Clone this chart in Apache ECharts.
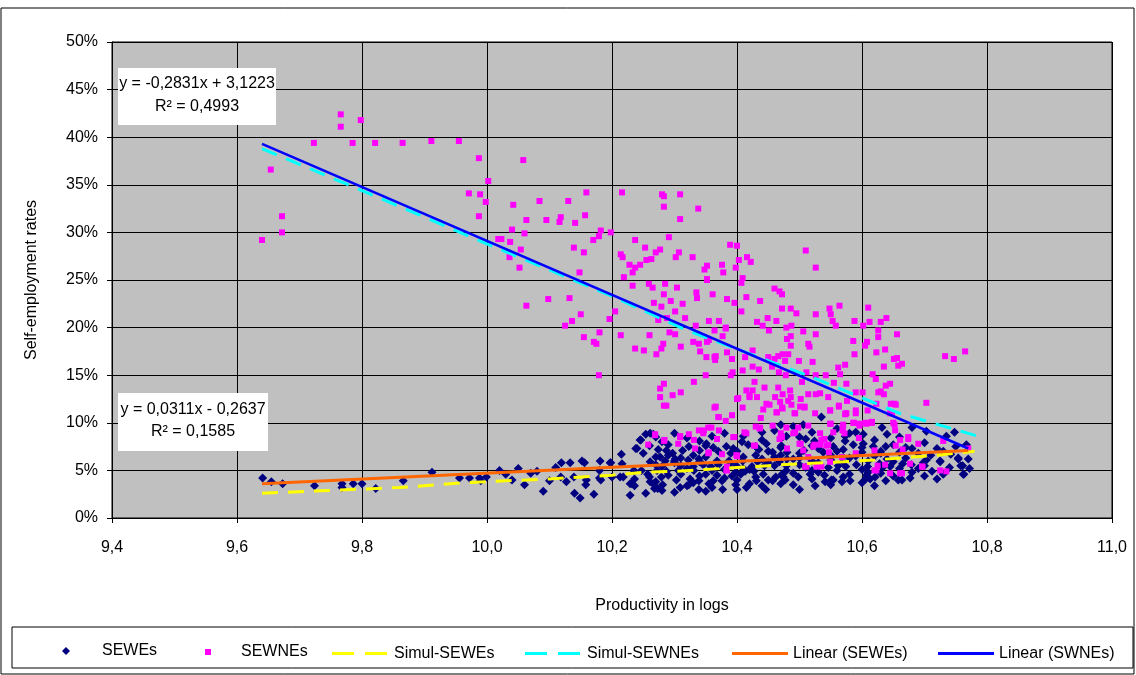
<!DOCTYPE html>
<html>
<head>
<meta charset="utf-8">
<title>Self-employment rates</title>
<script src="https://cdn.jsdelivr.net/npm/echarts@6/dist/echarts.min.js"></script>
<style>
  html, body { margin: 0; padding: 0; background: #fff; }
  .echarts_1 { width: 1136px; height: 675px; }
</style>
</head>
<body>
<div class="echarts_1"></div>
<script>
// data: x = productivity in logs, y = rate in %
var xTicks = [9.4, 9.6, 9.8, 10.0, 10.2, 10.4, 10.6, 10.8, 11.0];
var yTicks = [0, 5, 10, 15, 20, 25, 30, 35, 40, 45, 50];

var sewes = [
  [9.641,4.2],[9.655,3.8],[9.673,3.6],[9.724,3.4],[9.768,3.6],[9.768,3.2],[9.786,3.6],[9.8,3.6],[9.822,3.1],[9.866,3.9],
  [9.912,4.8],[9.956,4.2],[9.972,4.2],[9.988,4.2],[9.99,3.9],[9.999,4.3],
  [10.02,5.0],[10.03,4.6],[10.05,5.2],[10.06,3.5],[10.07,4.7],[10.04,4.0],[10.08,4.9],[10.09,2.8],[10.1,3.9],[10.11,5.3],
  [10.119,5.8],[10.133,5.8],[10.152,6.0],[10.156,5.8],[10.181,6.0],[10.18,5.0],[10.198,5.8],[10.215,6.7],[10.24,7.3],[10.245,8.2],
  [10.254,8.8],[10.261,8.9],[10.14,2.6],[10.149,2.1],[10.171,2.5],[10.139,4.3],[10.127,3.8],[10.118,4.3],[10.159,4.0],[10.158,3.5],
  [10.182,4.0],[10.2,4.3],[10.213,4.3],[10.229,2.4],[10.232,3.6],[10.236,4.1],[10.254,2.6],[10.273,3.1],[10.266,3.6],[10.235,5.0],
  [10.266,8.8],[10.246,8.2],[10.238,7.3],[10.216,5.7],[10.197,5.8],[10.18,4.2],[10.218,4.3],[10.236,3.4],[10.261,3.8],[10.268,3.1],
  [10.279,4.3],[10.287,4.9],[10.303,4.0],[10.31,4.6],[10.325,4.1],[10.339,3.9],[10.355,3.6],[10.362,3.9],[10.376,3.9],[10.392,4.4],
  [10.406,4.6],[10.415,3.2],[10.446,3.0],[10.457,3.9],[10.472,4.6],[10.477,4.0],
  [10.274,7.2],[10.287,7.1],[10.297,6.8],[10.313,7.1],[10.323,7.5],[10.34,7.1],[10.351,7.8],[10.362,7.4],[10.383,7.5],[10.394,7.3],
  [10.408,8.0],[10.418,7.7],[10.435,7.2],[10.447,7.8],[10.457,6.9],[10.47,7.4],[10.479,8.6],
  [10.261,5.9],[10.277,6.4],[10.285,6.0],[10.301,6.2],[10.322,6.1],[10.339,6.2],[10.346,5.6],[10.358,5.4],[10.368,6.0],[10.387,6.0],
  [10.399,5.5],[10.409,6.0],[10.424,5.4],[10.433,5.9],[10.444,5.5],[10.46,5.5],[10.468,5.9],[10.479,5.5],[10.247,5.0],[10.257,4.6],
  [10.272,5.0],[10.306,5.0],[10.331,5.0],[10.35,4.6],[10.368,4.5],[10.398,4.8],[10.413,4.9],[10.427,4.9],[10.442,4.6],[10.462,4.3],
  [10.229,3.6],[10.281,3.5],[10.309,3.2],[10.323,3.5],[10.339,3.0],[10.377,3.0],[10.398,3.5],[10.431,3.9],
  [10.535,10.6],[10.59,9.0],[10.632,9.5],[10.64,8.8],[10.703,9.1],[10.748,9.0],[10.506,9.8],[10.473,8.5],[10.5,8.5],[10.524,8.1],
  [10.573,8.1],[10.586,7.7],[10.602,7.8],[10.618,7.5],[10.638,7.5],[10.554,7.5],[10.538,6.9],[10.507,7.1],[10.471,7.6],[10.725,6.0],
  [10.742,6.7],[10.754,6.2],[10.761,5.5],[10.763,4.6],[10.712,4.9],[10.703,6.1],[10.679,5.6],[10.665,5.7],[10.645,5.4],[10.628,5.7],
  [10.609,5.4],[10.591,5.6],[10.574,5.4],[10.562,5.5],[10.546,5.3],[10.49,4.7],[10.479,5.0],[10.474,4.3],[10.498,4.3],[10.517,4.6],
  [10.541,3.8],[10.554,4.0],[10.568,3.8],[10.581,3.9],[10.606,4.1],[10.621,4.3],[10.638,3.9],[10.658,4.0],[10.677,4.2],[10.525,3.4],
  [10.49,3.5],[10.607,4.5],[10.573,8.6],[10.602,8.8],
  [10.735,8.6],[10.767,7.7],[10.754,6.3],[10.77,6.2],[10.758,5.5],[10.772,5.2],[10.762,4.6],[10.725,5.9],[10.698,5.8],[10.664,4.0],
  [10.613,4.1],[10.551,4.0],[10.633,5.3],
  [10.49,6.2],[10.5,6.8],[10.52,6.0],[10.53,7.3],[10.55,6.6],[10.56,7.0],[10.58,6.3],[10.6,6.9],[10.62,6.5],[10.64,6.2],
  [10.66,6.9],[10.67,7.4],[10.69,6.8],[10.7,7.9],[10.72,7.3],[10.47,6.6],[10.45,7.0],[10.43,6.6],[10.41,6.4],[10.39,6.8],
  [10.37,7.0],[10.35,6.4],[10.33,6.6],[10.31,6.3],[10.29,6.6],[10.27,6.4],[10.25,6.8],[10.3,2.7],[10.5,3.0],[10.44,8.2],
  [10.52,9.0],[10.56,9.4],[10.49,9.6],[10.46,9.2],[10.36,8.6],[10.32,8.4],[10.3,8.9],[10.28,8.0],[10.66,8.5],[10.68,9.5],
  [10.54,4.5],[10.56,5.0],[10.58,4.6],[10.6,5.1],[10.63,4.7],[10.65,4.4],[10.68,4.8],[10.7,4.4],[10.72,4.1],[10.74,5.3],
  [10.52,5.0],[10.5,5.6],[10.45,4.0],[10.42,3.6],[10.36,3.2],[10.33,3.7],[10.27,3.8],[10.26,4.3],[10.29,4.5],[10.31,5.5],
  [10.34,4.4],[10.38,5.1],[10.43,4.3],
  [10.26,7.6],[10.28,5.4],[10.3,5.8],[10.32,5.2],[10.34,5.9],[10.36,5.0],[10.38,4.2],[10.4,4.0],[10.42,5.1],[10.44,6.2],
  [10.46,6.4],[10.48,6.9],[10.5,6.3],[10.51,5.3],[10.53,5.8],[10.55,6.1],[10.57,5.9],[10.59,6.5],[10.61,6.0],[10.63,6.8],
  [10.65,5.9],[10.67,6.3],[10.69,5.2],[10.71,6.6],[10.73,7.0],[10.75,7.5],[10.44,9.0],[10.47,9.8],[10.51,8.3],[10.55,8.4],
  [10.58,8.9],[10.62,8.2],[10.65,7.7],[10.68,7.3],[10.41,8.6],[10.38,8.9],[10.34,8.1],[10.29,7.7],[10.27,8.5],[10.35,7.6],
  [10.4,7.0],[10.43,7.5],[10.52,7.6],[10.57,7.2],[10.6,7.4],[10.63,7.0],[10.39,5.8],[10.41,5.2],[10.37,5.6],[10.33,5.4],
  [10.3,6.0],[10.27,5.6],[10.45,5.8],[10.48,6.2],[10.53,4.8],[10.57,4.3],[10.61,4.8],[10.66,5.2],[10.7,5.5],[10.73,4.6],
  [10.47,3.6],[10.52,4.1],[10.55,3.5],[10.6,3.7],[10.4,3.0],[10.35,2.8],[10.32,3.4],[10.28,2.9],[10.44,3.4],[10.62,3.4]
];

var sewnes = [
  [9.64,29.2],[9.654,36.6],[9.672,31.7],[9.672,30.0],[9.723,39.4],[9.766,42.4],[9.766,41.1],[9.785,39.4],[9.798,41.8],[9.821,39.4],
  [9.865,39.4],[9.911,39.6],[9.955,39.6],[9.971,34.1],[9.987,37.8],[9.989,34.0],[9.998,33.2],[9.987,31.7],[10.002,35.4],
  [10.058,37.6],[10.159,34.2],[10.216,34.2],[10.28,34.0],[10.283,33.8],[10.309,34.0],[10.283,32.7],[10.338,32.5],[10.309,31.4],[10.042,32.9],
  [10.084,33.3],[10.13,33.3],[10.063,31.3],[10.095,31.3],[10.116,31.1],[10.118,31.6],[10.141,31.0],[10.157,31.8],[10.04,30.3],[10.06,29.9],
  [10.018,29.3],[10.023,29.3],[10.037,29.0],[10.054,28.2],[10.036,27.4],[10.052,26.3],[10.139,28.4],[10.155,27.9],[10.17,29.2],[10.179,29.6],
  [10.182,30.2],[10.198,30.0],[10.237,29.2],[10.291,29.5],[10.389,28.7],[10.4,28.6],[10.253,28.4],[10.27,27.9],[10.277,28.2],[10.214,27.7],
  [10.217,27.4],[10.255,27.1],[10.263,27.2],[10.302,27.4],[10.307,27.9],[10.329,27.4],[10.228,26.6],[10.237,26.3],[10.245,26.6],[10.233,25.8],
  [10.219,25.3],[10.148,25.8],[10.352,26.5],[10.348,26.1],[10.376,26.6],[10.378,25.8],[10.398,26.3],[10.352,25.1],[10.233,24.4],[10.259,24.6],
  [10.265,24.2],[10.285,24.6],[10.304,24.2],[10.283,23.5],[10.294,22.8],[10.313,22.5],[10.267,22.6],[10.279,22.2],[10.335,23.7],[10.336,23.1],
  [10.361,23.5],[10.384,23.0],[10.396,22.6],[10.098,23.0],[10.132,23.1],[10.063,22.3],[10.15,21.4],[10.136,20.7],[10.125,20.2],[10.205,21.7],
  [10.196,20.9],[10.301,21.7],[10.317,21.0],[10.274,20.8],[10.288,21.0],[10.355,20.7],[10.371,20.7],[10.334,20.2],[10.382,20.0],[10.155,19.0],
  [10.18,19.5],[10.171,18.5],[10.175,18.3],[10.214,19.2],[10.26,19.2],[10.292,19.5],[10.301,19.3],[10.33,18.5],[10.339,18.3],[10.282,18.3],
  [10.31,18.0],[10.237,17.8],[10.251,17.6],[10.279,17.8],[10.271,17.2],[10.341,17.5],[10.352,18.5],[10.364,16.9],[10.377,19.1],[10.384,17.4],
  [10.179,15.0],
  [10.51,28.1],[10.416,27.4],[10.422,26.9],[10.403,27.1],[10.526,26.3],[10.352,25.0],[10.409,25.2],[10.407,24.7],[10.415,23.2],[10.437,22.8],
  [10.46,24.1],[10.468,23.8],[10.472,23.5],[10.407,21.7],[10.472,22.0],[10.486,22.0],[10.495,21.5],[10.548,22.0],[10.564,22.3],[10.61,22.1],
  [10.526,21.4],[10.55,21.4],[10.639,21.0],[10.553,20.7],[10.558,20.2],[10.588,20.7],[10.602,20.2],[10.612,20.6],[10.63,20.6],[10.432,20.6],
  [10.441,20.2],[10.449,21.0],[10.463,20.7],[10.451,19.7],[10.479,20.0],[10.487,20.2],[10.506,19.6],[10.526,19.3],[10.48,18.8],[10.486,19.1],
  [10.626,19.7],[10.656,19.3],[10.626,19.0],[10.586,18.6],[10.608,18.5],[10.605,18.1],[10.514,18.3],[10.516,18.0],[10.486,18.1],[10.364,19.7],
  [10.382,19.9],[10.355,18.7],[10.425,17.6],[10.366,17.0],[10.365,16.6],[10.351,16.9],[10.392,16.7],[10.413,16.9],[10.45,16.9],[10.466,17.0],
  [10.473,17.2],[10.482,17.2],[10.46,16.7],[10.477,16.5],[10.499,16.5],[10.521,16.4],[10.651,16.7],[10.656,16.8],[10.664,16.2],[10.635,15.9],
  [10.658,16.0],[10.588,17.2],[10.623,17.4],[10.637,17.7],[10.733,17.0],[10.747,16.7],[10.765,17.5],[10.573,16.1],[10.562,15.8],[10.409,15.5],
  [10.425,15.9],[10.435,15.6],[10.456,15.9],[10.467,15.3],[10.478,15.0],[10.393,15.3],[10.39,15.0],[10.35,15.0],[10.511,15.3],[10.526,15.0],
  [10.542,15.0],[10.565,15.1],[10.555,14.2],[10.575,14.1],[10.617,15.1],[10.622,14.6],[10.638,13.9],[10.645,14.1],[10.428,14.3],[10.444,13.7],
  [10.466,13.7],[10.485,13.4],[10.504,14.3],[10.415,13.4],[10.42,12.9],[10.432,12.7],[10.461,12.7],[10.473,13.0],[10.486,12.7],[10.514,13.0],
  [10.526,13.0],[10.533,13.1],[10.546,12.7],[10.576,12.3],[10.59,13.2],[10.601,13.2],[10.626,13.2],[10.63,13.3],[10.635,13.0],[10.646,12.0],
  [10.654,11.9],[10.703,12.1],[10.402,12.6],[10.447,12.0],[10.469,12.2],[10.482,12.3],[10.502,12.5],[10.501,11.7],[10.409,11.6],[10.442,11.4],
  [10.464,11.1],[10.473,11.5],[10.492,11.0],[10.508,11.7],[10.549,11.3],[10.563,11.7],[10.573,10.9],[10.59,11.0],[10.364,11.6],[10.371,10.6],
  [10.392,10.8],[10.382,10.2],[10.438,10.5],[10.525,11.0],[10.586,10.0],[10.595,9.9],[10.605,10.0],[10.616,10.0],[10.65,10.0],
  [10.277,13.6],[10.283,14.1],[10.331,14.3],[10.277,12.7],[10.297,12.9],[10.31,13.2],[10.283,11.8],[10.366,11.7],[10.37,10.6],[10.4,12.5],
  [10.42,12.7],[10.425,13.4],[10.452,11.9],[10.472,11.6],[10.487,11.9],[10.463,11.1],[10.493,11.0],[10.508,11.6],[10.43,9.6],[10.437,9.5],
  [10.415,8.9],[10.493,9.0],[10.47,8.9],[10.514,9.7],[10.533,8.9],[10.54,8.3],[10.549,9.9],[10.569,9.2],[10.575,11.0],[10.563,11.8],
  [10.347,9.2],[10.359,9.5],[10.346,8.9],[10.371,9.2],[10.309,8.5],[10.323,8.8],[10.331,8.2],[10.284,8.2],[10.269,8.7],[10.258,7.7],
  [10.306,7.8],[10.333,7.3],[10.355,6.9],[10.376,6.7],[10.399,6.6],[10.394,8.5],[10.412,9.0],[10.427,7.6],[10.472,8.5],[10.48,7.3],
  [10.5,7.8],[10.506,7.1],[10.524,7.7],[10.543,7.6],[10.547,6.9],[10.384,5.4],[10.384,5.0],[10.511,5.4],[10.527,5.4],
  [10.645,11.0],[10.652,9.8],[10.661,8.2],[10.654,7.6],[10.674,8.3],[10.69,7.8],[10.665,7.2],[10.696,5.4],[10.725,5.0],[10.735,4.9],
  [10.73,8.1],[10.77,7.3],[10.57,9.8],[10.607,9.9],[10.616,10.1],[10.572,8.9],[10.595,8.4],[10.62,7.1],[10.623,5.0],[10.533,7.7],
  [10.514,6.4],[10.535,5.4],[10.637,5.6],[10.664,4.7],[10.677,5.7],
  [10.287,11.8],[10.269,8.8],[10.283,8.1],[10.309,8.6],[10.339,9.2],[10.354,6.8],[10.354,9.5],[10.368,8.3],[10.4,6.5],[10.383,5.0],
  [10.396,8.5],[10.429,7.6],[10.436,9.4],[10.457,9.7],[10.468,8.3],
  [10.549,11.3],[10.574,11.0],[10.59,11.3],[10.609,11.3],[10.623,12.0],[10.652,12.0],[10.648,11.0],[10.479,9.5],[10.498,9.5],[10.55,9.9],
  [10.569,9.6],[10.587,10.0],[10.596,9.7],[10.613,10.0],[10.653,9.2],[10.674,8.5],[10.49,8.9],[10.535,8.2],[10.522,7.5],[10.502,7.8],
  [10.546,7.7],[10.554,9.0],[10.568,6.4],[10.549,5.9],[10.509,5.4],[10.59,6.8],[10.625,5.5],[10.62,5.0],[10.645,4.7],[10.661,4.7],
  [10.697,5.4]
];

// simulated values
var simulSewes = [
  [9.64,2.6],[9.75,2.9],[9.86,3.2],[9.96,3.7],[10.1,4.1],[10.2,4.5],[10.25,4.8],[10.3,4.9],[10.35,5.1],
  [10.4,5.3],[10.45,5.5],[10.5,5.7],[10.57,5.9],[10.62,6.1],[10.68,6.4],[10.72,6.6],[10.78,7.0]
];
var simulSewnes = [
  [9.64,38.8],[9.8,34.4],[10.0,28.8],[10.2,23.3],[10.32,19.7],[10.52,14.8],[10.66,11.0],[10.785,8.6]
];

// trend line end points
var linearSewes = [[9.64,3.6],[10.77,7.1]];
var linearSwnes = [[9.64,39.3],[10.77,7.3]];

var eq1 = ['y = -0,2831x + 3,1223', 'R\u00b2 = 0,4993'];
var eq2 = ['y = 0,0311x - 0,2637', 'R\u00b2 = 0,1585'];

var font = "'Liberation Sans', Arial, sans-serif";

// legend icons for the lines: two dashes or one bar
var dashIcon = 'path://M0,0h22v3h-22z M33,0h22v3h-22z';
var solidIcon = 'path://M0,0h56v3h-56z';

var echarts_1 = echarts.init(document.querySelector(".echarts_1"));

function legendItem(name, left, w, h, icon, textPad) {
  return {
    data: [{ name: name, icon: icon }],
    left: left,
    top: 647 - h / 2,
    itemWidth: w,
    itemHeight: h,
    itemGap: 0,
    padding: 0,
    selectedMode: false,
    textStyle: { fontFamily: font, fontSize: 16, color: '#000', padding: [0, 0, 0, textPad || 0] }
  };
}

var option1 = {
  animation: false,
  backgroundColor: '#fff',
  grid: {
    left: 112, top: 42, width: 1000, height: 476,
    show: true, backgroundColor: '#C0C0C0', borderColor: '#000', borderWidth: 1
  },
  legend: [
    legendItem('SEWEs', 62, 8, 8, 'diamond', 27),
    legendItem('SEWNEs', 205, 6, 6, 'rect', 25),
    legendItem('Simul-SEWEs', 332, 55, 3, dashIcon, 2),
    legendItem('Simul-SEWNEs', 525, 55, 3, dashIcon, 2),
    legendItem('Linear (SEWEs)', 732, 56, 3, solidIcon, 0),
    legendItem('Linear (SWNEs)', 938, 56, 3, solidIcon, 0)
  ],
  xAxis: {
    type: 'value',
    min: xTicks[0], max: xTicks[xTicks.length - 1], interval: 0.2,
    axisLine: { lineStyle: { color: '#000', width: 1 } },
    axisTick: { show: true, length: 5, lineStyle: { color: '#000' } },
    axisLabel: {
      margin: 22, color: '#000', fontFamily: font, fontSize: 16,
      formatter: function (v) { return v.toFixed(1).replace('.', ','); }
    },
    splitLine: { show: true, lineStyle: { color: '#000', width: 1 } }
  },
  yAxis: {
    type: 'value',
    min: yTicks[0], max: yTicks[yTicks.length - 1], interval: 5,
    name: 'Self-employment rates',
    nameLocation: 'middle',
    nameGap: 72,
    nameTextStyle: { color: '#000', fontFamily: font, fontSize: 16 },
    axisLine: { show: true, lineStyle: { color: '#000', width: 1 } },
    axisTick: { show: true, length: 5, lineStyle: { color: '#000' } },
    axisLabel: {
      margin: 14, color: '#000', fontFamily: font, fontSize: 16,
      formatter: '{value}%'
    },
    splitLine: { show: true, lineStyle: { color: '#000', width: 1 } }
  },
  series: [
    {
      name: 'SEWEs', type: 'scatter', data: sewes,
      symbol: 'diamond', symbolSize: 9,
      itemStyle: { color: '#000080', opacity: 1 }
    },
    {
      name: 'SEWNEs', type: 'scatter', data: sewnes,
      symbol: 'rect', symbolSize: 6,
      itemStyle: { color: '#FF00FF', opacity: 1 }
    },
    {
      name: 'Simul-SEWEs', type: 'line', data: simulSewes,
      symbol: 'none',
      itemStyle: { color: '#FFFF00' },
      lineStyle: { color: '#FFFF00', width: 3, type: [16, 10] }
    },
    {
      name: 'Simul-SEWNEs', type: 'line', data: simulSewnes,
      symbol: 'none',
      itemStyle: { color: '#00FFFF' },
      lineStyle: { color: '#00FFFF', width: 3, type: [16, 10] }
    },
    {
      name: 'Linear (SEWEs)', type: 'line', data: linearSewes,
      symbol: 'none',
      itemStyle: { color: '#FF6600' },
      lineStyle: { color: '#FF6600', width: 3 }
    },
    {
      name: 'Linear (SWNEs)', type: 'line', data: linearSwnes,
      symbol: 'none',
      itemStyle: { color: '#0000FF' },
      lineStyle: { color: '#0000FF', width: 2.5 }
    }
  ],
  graphic: [
    // outer frame and legend frame
    { type: 'rect', shape: { x: 1, y: 8, width: 1133, height: 666 }, style: { fill: 'none', stroke: '#000', lineWidth: 1 }, z: 0 },
    { type: 'rect', shape: { x: 12, y: 627, width: 1121, height: 41 }, style: { fill: 'none', stroke: '#000', lineWidth: 1 } },
    // x axis title
    { type: 'text', x: 662, y: 606, style: { text: 'Productivity in logs', fill: '#000', font: '16px ' + font, textAlign: 'center', textVerticalAlign: 'middle' } },
    // equation boxes
    { type: 'rect', shape: { x: 118, y: 68, width: 158, height: 57 }, style: { fill: '#fff', stroke: 'none' }, z: 100 },
    { type: 'text', x: 197, y: 84, z: 101, style: { text: eq1[0], fill: '#000', font: '16px ' + font, textAlign: 'center', textVerticalAlign: 'middle' } },
    { type: 'text', x: 197, y: 107, z: 101, style: { text: eq1[1], fill: '#000', font: '16px ' + font, textAlign: 'center', textVerticalAlign: 'middle' } },
    { type: 'rect', shape: { x: 118, y: 393, width: 150, height: 58 }, style: { fill: '#fff', stroke: 'none' }, z: 100 },
    { type: 'text', x: 193, y: 410, z: 101, style: { text: eq2[0], fill: '#000', font: '16px ' + font, textAlign: 'center', textVerticalAlign: 'middle' } },
    { type: 'text', x: 193, y: 432, z: 101, style: { text: eq2[1], fill: '#000', font: '16px ' + font, textAlign: 'center', textVerticalAlign: 'middle' } }
  ]
};

echarts_1.setOption(option1);
</script>
</body>
</html>
